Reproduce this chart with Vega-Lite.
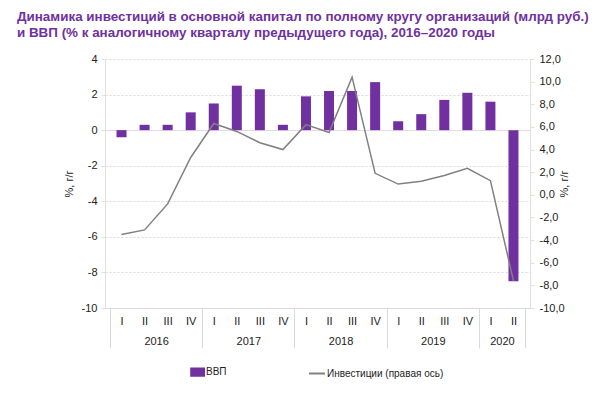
{
  "$schema": "https://vega.github.io/schema/vega-lite/v6.json",
  "width": 425,
  "height": 249,
  "autosize": "none",
  "padding": {"left": 105, "top": 59, "right": 79, "bottom": 88},
  "title": {
    "text": ["Динамика инвестиций в основной капитал по полному кругу организаций (млрд руб.)", "и ВВП (% к аналогичному кварталу предыдущего года), 2016–2020 годы"],
    "anchor": "start",
    "frame": "group",
    "dx": -88,
    "offset": 14,
    "font": "Liberation Sans",
    "fontSize": 13.4,
    "fontWeight": "bold",
    "color": "#7030A0",
    "lineHeight": 16
  },
  "config": {
    "view": {"stroke": null},
    "font": "Liberation Sans",
    "axis": {"labelFont": "Liberation Sans", "labelFontSize": 11, "labelColor": "#222222", "titleFont": "Liberation Sans", "titleFontSize": 11, "titleFontWeight": "normal", "titleColor": "#222222"}
  },
  "data": {
    "values": [
      {"idx": 1, "q": "I", "year": 2016, "gdp": -0.4, "inv": -3.5},
      {"idx": 2, "q": "II", "year": 2016, "gdp": 0.3, "inv": -3.1},
      {"idx": 3, "q": "III", "year": 2016, "gdp": 0.3, "inv": -0.8},
      {"idx": 4, "q": "IV", "year": 2016, "gdp": 1.0, "inv": 3.3},
      {"idx": 5, "q": "I", "year": 2017, "gdp": 1.5, "inv": 6.3},
      {"idx": 6, "q": "II", "year": 2017, "gdp": 2.5, "inv": 5.6},
      {"idx": 7, "q": "III", "year": 2017, "gdp": 2.3, "inv": 4.6},
      {"idx": 8, "q": "IV", "year": 2017, "gdp": 0.3, "inv": 4.0},
      {"idx": 9, "q": "I", "year": 2018, "gdp": 1.9, "inv": 6.2},
      {"idx": 10, "q": "II", "year": 2018, "gdp": 2.2, "inv": 5.5},
      {"idx": 11, "q": "III", "year": 2018, "gdp": 2.2, "inv": 10.4},
      {"idx": 12, "q": "IV", "year": 2018, "gdp": 2.7, "inv": 1.9},
      {"idx": 13, "q": "I", "year": 2019, "gdp": 0.5, "inv": 0.95},
      {"idx": 14, "q": "II", "year": 2019, "gdp": 0.9, "inv": 1.2},
      {"idx": 15, "q": "III", "year": 2019, "gdp": 1.7, "inv": 1.7},
      {"idx": 16, "q": "IV", "year": 2019, "gdp": 2.1, "inv": 2.35},
      {"idx": 17, "q": "I", "year": 2020, "gdp": 1.6, "inv": 1.25},
      {"idx": 18, "q": "II", "year": 2020, "gdp": -8.5, "inv": -7.6}
    ]
  },
  "encoding": {
    "x": {
      "field": "idx",
      "type": "quantitative",
      "scale": {"domain": [0.5, 18.5], "nice": false, "zero": false},
      "axis": {
        "title": null,
        "grid": false,
        "values": [0.5, 1, 2, 2.5, 3, 4, 4.5, 5, 6, 6.5, 7, 8, 8.5, 9, 10, 10.5, 11, 12, 12.5, 13, 14, 14.5, 15, 16, 16.5, 17, 17.5, 18, 18.5],
        "labelExpr": "datum.value % 1 == 0 ? ['I','II','III','IV'][(datum.value - 1) % 4] : ((datum.value % 4 == 2.5 && datum.value != 18.5) || datum.value == 17.5 ? ['', '' + (2016 + floor(datum.value / 4))] : '')",
        "labelOverlap": false,
        "labelFlush": false,
        "labelBound": false,
        "labelLineHeight": 20,
        "labelBaseline": "top",
        "labelPadding": -33,
        "ticks": true,
        "tickSize": 40,
        "tickColor": {"condition": {"test": "datum.value == 18.5 || datum.value % 4 == 0.5", "value": "#d9d9d9"}, "value": "transparent"},
        "domainColor": "#d9d9d9"
      }
    }
  },
  "layer": [
    {
      "mark": {"type": "bar", "size": 10},
      "encoding": {
        "y": {
          "field": "gdp",
          "type": "quantitative",
          "scale": {"domain": [-10, 4], "nice": false},
          "axis": {
            "title": "%, г/г",
            "values": [-10, -8, -6, -4, -2, 0, 2, 4],
            "labelExpr": "'' + datum.value",
            "grid": true,
            "gridColor": {"condition": {"test": "datum.value == 0", "value": "#e6d6ea"}, "value": "#d9d9d9"},
            "gridDash": {"condition": {"test": "datum.value == 0", "value": []}, "value": [2, 2]},
            "domainColor": "#e0e0e0",
            "tickColor": "#e0e0e0",
            "tickSize": 4,
            "labelPadding": 4,
            "titlePadding": 7
          }
        },
        "color": {
          "datum": "ВВП",
          "type": "nominal",
          "scale": {"domain": ["ВВП", "Инвестиции (правая ось)"], "range": ["#7030A0", "#808080"]},
          "legend": {
            "title": null,
            "orient": "none",
            "direction": "horizontal",
            "legendX": 82,
            "legendY": 304,
            "labelFont": "Liberation Sans",
            "labelFontSize": 10,
            "labelColor": "#222222",
            "symbolSize": 256,
            "labelOffset": 1,
            "columnPadding": 78,
            "encode": {
              "symbols": {
                "update": {
                  "shape": {"signal": "datum.value == 'ВВП' ? 'M-0.6,-0.45H1V0.45H-0.6Z' : 'stroke'"},
                  "fill": {"signal": "datum.value == 'ВВП' ? '#7030A0' : 'transparent'"},
                  "stroke": {"signal": "datum.value == 'ВВП' ? 'transparent' : '#808080'"},
                  "strokeWidth": {"value": 2},
                  "opacity": {"value": 1}
                }
              }
            }
          }
        }
      }
    },
    {
      "mark": {"type": "line", "strokeWidth": 1.5},
      "encoding": {
        "y": {
          "field": "inv",
          "type": "quantitative",
          "scale": {"domain": [-10, 12], "nice": false},
          "axis": {
            "orient": "right",
            "title": "%, г/г",
            "titleAngle": -90,
            "values": [-10, -8, -6, -4, -2, 0, 2, 4, 6, 8, 10, 12],
            "labelExpr": "replace(replace(format(datum.value, '.1f'), '.', ','), '\u2212', '-')",
            "grid": false,
            "domainColor": "#e0e0e0",
            "tickColor": "#e0e0e0",
            "tickSize": 4,
            "labelPadding": 5,
            "titlePadding": 5
          }
        },
        "color": {"datum": "Инвестиции (правая ось)", "type": "nominal"}
      }
    }
  ],
  "resolve": {"scale": {"y": "independent"}}
}
